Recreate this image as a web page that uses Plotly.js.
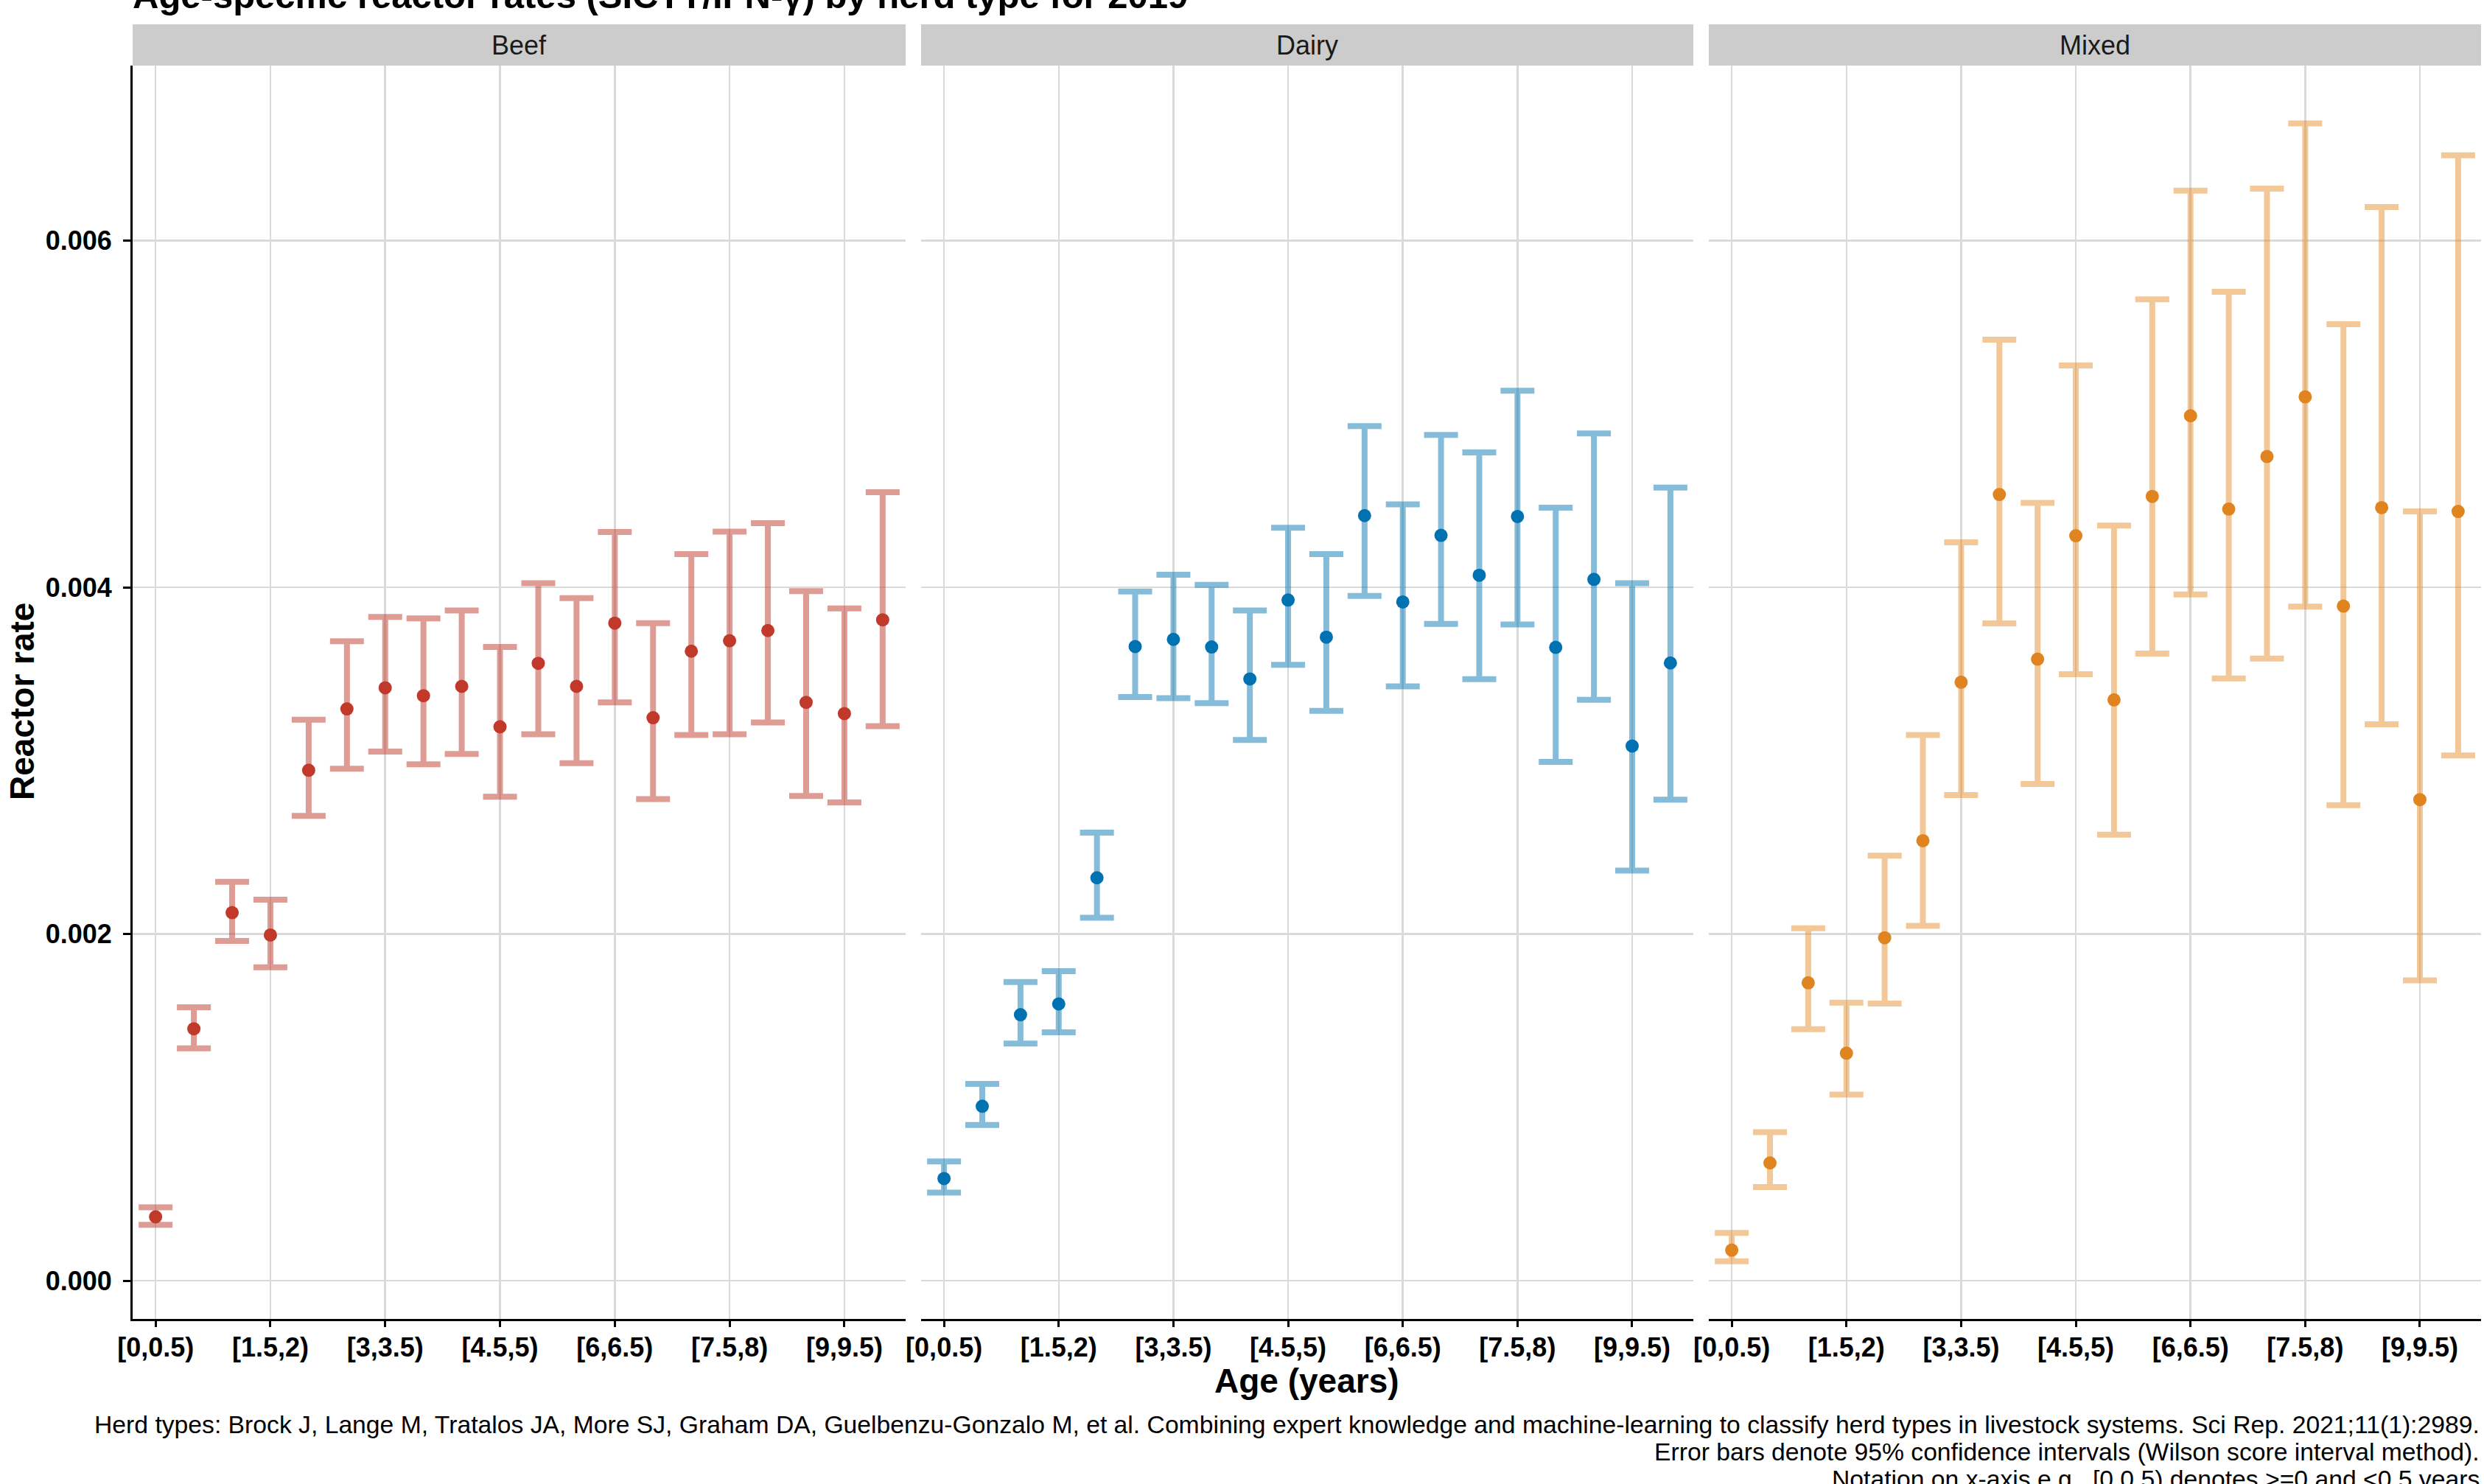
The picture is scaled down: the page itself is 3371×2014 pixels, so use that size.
<!DOCTYPE html>
<html>
<head>
<meta charset="utf-8">
<script src="https://cdn.plot.ly/plotly-3.0.1.min.js"></script>
<style>
  html, body { margin: 0; padding: 0; background: #ffffff; }
  #chart { width: 3371px; height: 2014px; }
</style>
</head>
<body>
<div id="chart"></div>
<script>
// ---- Data ----
const ageCategories = ['[0,0.5)','[0.5,1)','[1,1.5)','[1.5,2)','[2,2.5)','[2.5,3)','[3,3.5)','[3.5,4)','[4,4.5)','[4.5,5)',
  '[5,5.5)','[5.5,6)','[6,6.5)','[6.5,7)','[7,7.5)','[7.5,8)','[8,8.5)','[8.5,9)','[9,9.5)','[9.5,10)'];
const xTickLabels = ['[0,0.5)','[1.5,2)','[3,3.5)','[4.5,5)','[6,6.5)','[7.5,8)','[9,9.5)'];
const yTickValues = [0, 0.002, 0.004, 0.006];
const yTickLabels = ['0.000', '0.002', '0.004', '0.006'];
const herdTypes = ['Beef', 'Dairy', 'Mixed'];

const beefRate  = [0.000369,0.001454,0.002124,0.001995,0.002945,0.003299,0.003421,0.003375,0.003429,0.003196,
                   0.003562,0.003429,0.003794,0.003248,0.003632,0.003692,0.003751,0.003337,0.003272,0.003813];
const beefUpper = [0.000424,0.001578,0.002302,0.002198,0.003237,0.003689,0.003830,0.003821,0.003867,0.003656,
                   0.004024,0.003938,0.004319,0.003794,0.004192,0.004322,0.004371,0.003978,0.003878,0.004549];
const beefLower = [0.000323,0.001341,0.001961,0.001809,0.002682,0.002954,0.003053,0.002979,0.003039,0.002793,
                   0.003153,0.002986,0.003337,0.002779,0.003148,0.003153,0.003221,0.002797,0.002760,0.003199];

const dairyRate  = [0.000590,0.001007,0.001535,0.001597,0.002325,0.003659,0.003700,0.003656,0.003472,0.003927,
                    0.003713,0.004414,0.003916,0.004300,0.004070,0.004409,0.003654,0.004046,0.003085,0.003564];
const dairyUpper = [0.000689,0.001136,0.001724,0.001786,0.002585,0.003976,0.004073,0.004014,0.003867,0.004344,
                    0.004192,0.004931,0.004479,0.004879,0.004779,0.005134,0.004460,0.004888,0.004024,0.004576];
const dairyLower = [0.000509,0.000899,0.001369,0.001433,0.002094,0.003367,0.003361,0.003332,0.003120,0.003553,
                    0.003288,0.003951,0.003429,0.003789,0.003470,0.003786,0.002993,0.003351,0.002366,0.002776];

const mixedRate  = [0.000177,0.000680,0.001719,0.001313,0.001979,0.002539,0.003453,0.004536,0.003586,0.004298,
                    0.003351,0.004525,0.004990,0.004452,0.004755,0.005099,0.003892,0.004460,0.002776,0.004438];
const mixedUpper = [0.000276,0.000857,0.002034,0.001604,0.002452,0.003148,0.004260,0.005429,0.004487,0.005280,
                    0.004357,0.005662,0.006289,0.005705,0.006300,0.006676,0.005518,0.006194,0.004438,0.006492];
const mixedLower = [0.000113,0.000541,0.001452,0.001074,0.001599,0.002048,0.002802,0.003792,0.002866,0.003499,
                    0.002574,0.003618,0.003959,0.003475,0.003589,0.003889,0.002744,0.003210,0.001733,0.003031];

const titleText = 'Age-specific reactor rates (SICTT/IFN-\u03b3) by herd type for 2019';
const xTitleText = 'Age (years)';
const yTitleText = 'Reactor rate';
const captionLines = [
  'Herd types: Brock J, Lange M, Tratalos JA, More SJ, Graham DA, Guelbenzu-Gonzalo M, et al. Combining expert knowledge and machine-learning to classify herd types in livestock systems. Sci Rep. 2021;11(1):2989.',
  'Error bars denote 95% confidence intervals (Wilson score interval method).',
  'Notation on x-axis e.g., [0,0.5) denotes >=0 and <0.5 years'
];

// ---- Styles ----
const W = 3371, H = 2014;
const FONT = 'Liberation Sans, Arial, Helvetica, sans-serif';
const pointColors = ['#C0392B', '#0072B2', '#E0841F'];
const barColors = ['rgba(192,57,43,0.5)', 'rgba(0,114,178,0.48)', 'rgba(230,140,40,0.48)'];
const panelsPx = [[180, 1229], [1250, 2298], [2319, 3367]];
const plotTopPx = 89, plotBottomPx = 1790, stripTopPx = 33;
const px2x = p => p / W;
const px2y = p => 1 - p / H;

const rates = [beefRate, dairyRate, mixedRate];
const uppers = [beefUpper, dairyUpper, mixedUpper];
const lowers = [beefLower, dairyLower, mixedLower];

const traces = herdTypes.map((h, i) => ({
  type: 'scatter',
  mode: 'markers',
  name: h,
  x: ageCategories,
  y: rates[i],
  xaxis: i === 0 ? 'x' : 'x' + (i + 1),
  yaxis: i === 0 ? 'y' : 'y' + (i + 1),
  marker: { color: pointColors[i], size: 18, line: { width: 0 } },
  error_y: {
    type: 'data',
    symmetric: false,
    array: uppers[i].map((u, k) => u - rates[i][k]),
    arrayminus: lowers[i].map((l, k) => rates[i][k] - l),
    color: barColors[i],
    thickness: 8,
    width: 23
  },
  showlegend: false,
  hoverinfo: 'x+y'
}));

const layout = {
  width: W, height: H,
  margin: { l: 0, r: 0, t: 0, b: 0, pad: 0 },
  paper_bgcolor: '#ffffff',
  plot_bgcolor: '#ffffff',
  font: { family: FONT, color: '#000000' },
  showlegend: false,
  shapes: [],
  annotations: []
};

const yDomain = [px2y(plotBottomPx), px2y(plotTopPx)];
panelsPx.forEach((p, i) => {
  const xa = i === 0 ? 'xaxis' : 'xaxis' + (i + 1);
  const ya = i === 0 ? 'yaxis' : 'yaxis' + (i + 1);
  const yid = i === 0 ? 'y' : 'y' + (i + 1);
  const xid = i === 0 ? 'x' : 'x' + (i + 1);
  layout[xa] = {
    domain: [px2x(p[0]), px2x(p[1])],
    anchor: yid,
    type: 'category',
    categoryorder: 'array',
    categoryarray: ageCategories,
    range: [-0.6, ageCategories.length - 0.4],
    tickmode: 'array',
    tickvals: xTickLabels,
    ticktext: xTickLabels,
    showgrid: true,
    gridcolor: '#DADADA',
    gridwidth: 2.5,
    zeroline: false,
    showline: true,
    linecolor: '#000000',
    linewidth: 3,
    ticks: 'outside',
    ticklen: 8,
    tickwidth: 3,
    tickcolor: '#000000',
    ticklabelstandoff: -3,
    tickfont: { family: FONT, size: 36, color: '#000000', weight: 700 },
    tickangle: 0,
    fixedrange: true
  };
  layout[ya] = {
    domain: yDomain,
    anchor: xid,
    range: [-0.00022, 0.00701],
    tickmode: 'array',
    tickvals: yTickValues,
    ticktext: yTickLabels,
    showticklabels: i === 0,
    showgrid: true,
    gridcolor: '#DADADA',
    gridwidth: 2.5,
    zeroline: false,
    showline: i === 0,
    linecolor: '#000000',
    linewidth: 3,
    ticks: i === 0 ? 'outside' : '',
    ticklen: 10,
    tickwidth: 3,
    tickcolor: '#000000',
    ticklabelstandoff: 8,
    tickfont: { family: FONT, size: 36, color: '#000000', weight: 700 },
    fixedrange: true
  };
  if (i > 0) layout[ya].matches = 'y';

  // strip
  layout.shapes.push({
    type: 'rect', xref: 'paper', yref: 'paper',
    x0: px2x(p[0]), x1: px2x(p[1]),
    y0: px2y(plotTopPx), y1: px2y(stripTopPx),
    fillcolor: '#CCCCCC', line: { width: 0 }, layer: 'below'
  });
  layout.annotations.push({
    xref: 'paper', yref: 'paper',
    x: px2x((p[0] + p[1]) / 2), y: px2y((plotTopPx + stripTopPx) / 2),
    xanchor: 'center', yanchor: 'middle',
    text: herdTypes[i], showarrow: false,
    font: { family: FONT, size: 36, color: '#1A1A1A' }
  });
});

// Title (partially clipped at top, as in the reference)
layout.annotations.push({
  xref: 'paper', yref: 'paper',
  x: px2x(178), y: px2y(-6),
  xanchor: 'left', yanchor: 'middle',
  text: titleText, showarrow: false,
  font: { family: FONT, size: 49, color: '#000000', weight: 700 }
});
// Axis titles
layout.annotations.push({
  xref: 'paper', yref: 'paper',
  x: px2x((panelsPx[0][0] + panelsPx[2][1]) / 2), y: px2y(1874),
  xanchor: 'center', yanchor: 'middle',
  text: xTitleText, showarrow: false,
  font: { family: FONT, size: 46, color: '#000000', weight: 700 }
});
layout.annotations.push({
  xref: 'paper', yref: 'paper',
  x: px2x(30), y: px2y(952),
  xanchor: 'center', yanchor: 'middle',
  text: yTitleText, showarrow: false, textangle: -90,
  font: { family: FONT, size: 46, color: '#000000', weight: 700 }
});
// Caption lines (right aligned)
const captionY = [1933, 1970, 2007];
captionLines.forEach((c, k) => {
  layout.annotations.push({
    xref: 'paper', yref: 'paper',
    x: px2x(3367), y: px2y(captionY[k]),
    xanchor: 'right', yanchor: 'middle',
    text: c.replace(/</g, '&lt;').replace(/>/g, '&gt;'), showarrow: false,
    font: { family: FONT, size: 33.7, color: '#000000' }
  });
});

Plotly.newPlot('chart', traces, layout, { displayModeBar: false, staticPlot: true });
</script>
</body>
</html>
